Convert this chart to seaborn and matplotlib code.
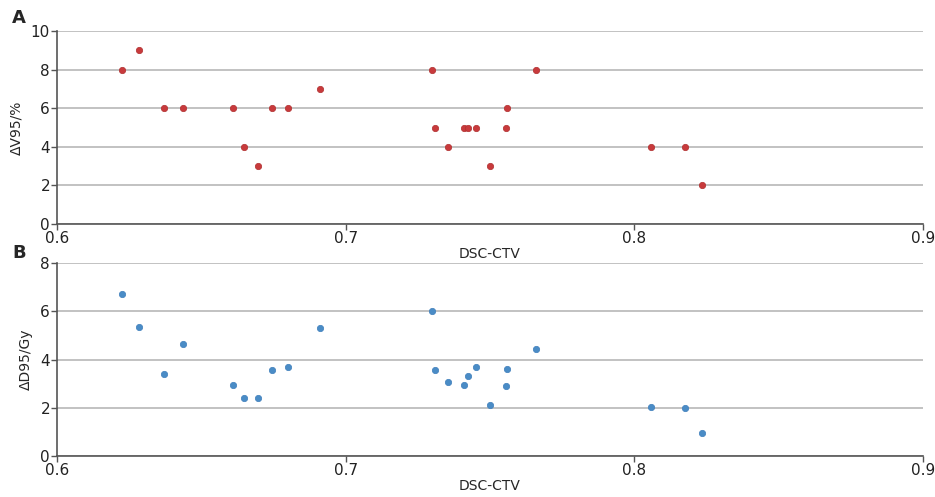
import numpy as np
import pandas as pd
import matplotlib
matplotlib.use('Agg')
import matplotlib.pyplot as plt
import seaborn as sns

# DSC-CTV per case, shared by both panels
dsc_ctv = [0.6226, 0.6285, 0.637, 0.6437, 0.661, 0.6648, 0.6697, 0.6745, 0.680,
           0.691, 0.730, 0.731, 0.7356, 0.741, 0.7425, 0.745, 0.750, 0.7555,
           0.756, 0.766, 0.8057, 0.8175, 0.8234]
delta_v95 = [8, 9, 6, 6, 6, 4, 3, 6, 6, 7, 8, 5, 4, 5, 5, 5, 3, 5, 6, 8, 4, 4, 2]
delta_d95 = [6.72, 5.33, 3.38, 4.63, 2.95, 2.42, 2.42, 3.57, 3.68, 5.3, 6.0, 3.55,
             3.08, 2.93, 3.32, 3.7, 2.12, 2.9, 3.6, 4.45, 2.05, 2.0, 0.97]

df = pd.DataFrame({'DSC-CTV': dsc_ctv, 'dV95': delta_v95, 'dD95': delta_d95})

sns.set_style("white")
plt.rcParams['font.family'] = ['DejaVu Sans']

fig = plt.figure(figsize=(9.35, 4.97), dpi=100)
W, H = 935, 497
ax_a = fig.add_axes([57 / W, 1 - 224 / H, (923 - 57) / W, (224 - 31) / H])
ax_b = fig.add_axes([57 / W, 1 - 456 / H, (923 - 57) / W, (456 - 263) / H])

panels = [
    (ax_a, 'dV95', '#c83a3c', '#b03030', 'ΔV95/%', (0, 10), [0, 2, 4, 6, 8, 10], 'A', 18),
    (ax_b, 'dD95', '#4a8cc6', '#4080bc', 'ΔD95/Gy', (0, 8), [0, 2, 4, 6, 8], 'B', 253),
]

for ax, col, face, edge, ylab, ylim, yticks, letter, ly in panels:
    sns.scatterplot(data=df, x='DSC-CTV', y=col, ax=ax, color=face,
                    edgecolor=edge, linewidth=0.5, s=21, zorder=3)
    ax.set_xlim(0.6, 0.9)
    ax.set_ylim(*ylim)
    ax.set_xticks([0.6, 0.7, 0.8, 0.9])
    ax.set_xticklabels(['0.6', '0.7', '0.8', '0.9'])
    ax.set_yticks(yticks)
    ax.yaxis.grid(True, color='#b8b8b8', linewidth=1.2)
    ax.set_axisbelow(True)
    for s in ['top', 'right']:
        ax.spines[s].set_visible(False)
    for s in ['left', 'bottom']:
        ax.spines[s].set_color('#555555')
        ax.spines[s].set_linewidth(1.2)
    ax.tick_params(axis='both', labelsize=11, colors='#555555', labelcolor='#222222',
                   length=4, width=1, direction='out', pad=1, left=True, bottom=True)
    ax.set_xlabel('DSC-CTV', fontsize=10, labelpad=1)
    ax.set_ylabel(ylab, fontsize=10, labelpad=5)
    fig.text(12 / W, 1 - ly / H, letter, fontsize=13, fontweight='bold',
             va='center', ha='left')

fig.savefig('out.png', dpi=100, facecolor='white')
